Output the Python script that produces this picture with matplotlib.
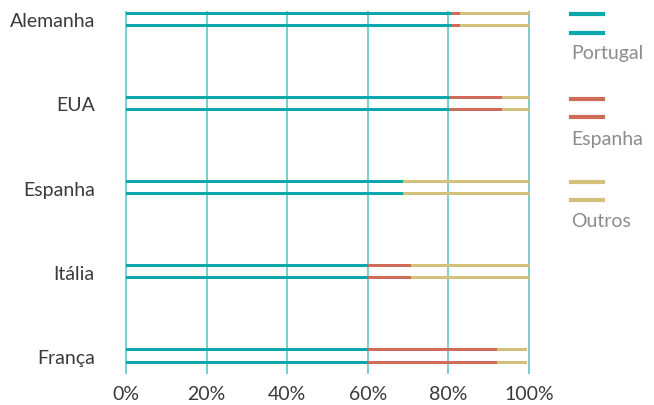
import matplotlib
matplotlib.use("Agg")
import matplotlib.pyplot as plt
from matplotlib.lines import Line2D
import numpy as np

categories = ['Alemanha', 'EUA', 'Espanha', 'Itália', 'França']
portugal = [80.6, 80.2, 68.8, 60.0, 60.0]
espanha = [2.4, 13.1, 0.0, 10.8, 32.0]
outros = [17.0, 6.7, 31.2, 29.2, 7.5]
series_names = ['Portugal', 'Espanha', 'Outros']
xticks = [0, 20, 40, 60, 80, 100]
xtick_labels = ['0%', '20%', '40%', '60%', '80%', '100%']

colors = ['#0aa7ab', '#d06b5a', '#d3c07a']
grid_color = '#4fc0c2'
text_color = '#3a3a3a'
legend_text_color = '#8c8c8c'
plt.rcParams['font.family'] = ['Lato', 'DejaVu Sans']
FW = 'normal'
FS = 14

W, H = 654, 406
fig = plt.figure(figsize=(W / 100, H / 100), dpi=100)
ax_left, ax_right = 124, 531
ax_top, ax_bottom = 12, 375
ax = fig.add_axes([ax_left / W, 1 - ax_bottom / H, (ax_right - ax_left) / W, (ax_bottom - ax_top) / H])

y = np.arange(len(categories))
offset = 0.075
bh = 0.036
data = [np.array(portugal), np.array(espanha), np.array(outros)]
for off in (-offset, offset):
    left = np.zeros(len(categories))
    for vals, c in zip(data, colors):
        ax.barh(y + off, vals, left=left, height=bh, color=c, zorder=3, linewidth=0)
        left = left + vals

ax.set_xlim(-0.5, 100.5)
ax.set_ylim(4.217, -0.099)
ax.set_xticks(xticks)
ax.set_xticklabels(xtick_labels, fontsize=FS, color=text_color, fontweight=FW)
ax.set_yticks(y)
ax.set_yticklabels(categories, fontsize=FS, color=text_color, fontweight=FW)
ax.tick_params(axis='both', length=0)
ax.tick_params(axis='x', pad=8)
ax.tick_params(axis='y', pad=21)
for s in ax.spines.values():
    s.set_visible(False)
ax.grid(axis='x', color=grid_color, linewidth=1.1, zorder=0)
ax.grid(axis='y', visible=False)

# legend
leg_x0, leg_x1 = 571 / W, 603 / W
leg_lines = [(15, 33.7, 53), (99.7, 118.3, 140), (182.7, 201.3, 221.7)]
for (y1, y2, yt), name, c in zip(leg_lines, series_names, colors):
    for yy in (y1, y2):
        fig.add_artist(Line2D([leg_x0, leg_x1], [1 - yy / H, 1 - yy / H], color=c, linewidth=3,
                              transform=fig.transFigure))
    fig.text(leg_x0, 1 - yt / H, name, fontsize=FS, color=legend_text_color, va='center', ha='left',
             fontweight=FW)

fig.savefig('out.png', dpi=100)
